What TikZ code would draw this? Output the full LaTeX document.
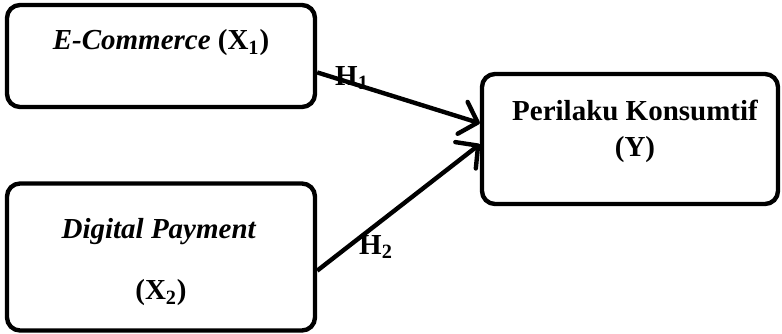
\documentclass[tikz,border=0pt]{standalone}
\usepackage{fontspec}
\setmainfont{Liberation Serif}
\usetikzlibrary{arrows.meta, positioning}

\begin{document}
\begin{tikzpicture}[
  x=0.02cm, y=-0.02cm,
  varbox/.style={draw, line width=2.5pt, rounded corners=0.26cm, inner sep=0pt},
  vartext/.style={font=\fontsize{16.5}{20}\selectfont\bfseries, align=center},
  hyp/.style={font=\fontsize{16.5}{20}\selectfont\bfseries, inner sep=1pt},
  link/.style={line width=2.5pt, -{Straight Barb[length=9pt, width=19pt, line width=2.5pt, round]}},
]
  \useasboundingbox (0,0) rectangle (782,334);

  % Boxes
  \node[varbox, minimum width=308*0.02cm, minimum height=102*0.02cm] (ecom) at (161,56) {};
  \node[varbox, minimum width=308*0.02cm, minimum height=147*0.02cm] (dpay) at (161,257) {};
  \node[varbox, minimum width=296*0.02cm, minimum height=130*0.02cm] (cons) at (630,139) {};

  % Texts
  \node[vartext] (ecomtxt) at (161,43) {\textit{E-Commerce} (X\textsubscript{1})};
  \node[vartext] (dpaytxt) at (159,232) {\textit{Digital Payment}};
  \node[vartext] (dpayvar) at (161,293) {(X\textsubscript{2})};
  \node[vartext] (constxt) at (635,110) {Perilaku Konsumtif};
  \node[vartext] (consvar) at (635,150) {(Y)};

  % Paths
  \draw[link] (ecom.-6.3) -- (cons.174.7);
  \draw[link] (dpay.-5.9) -- (cons.-178.5);

  % Hypotheses
  \node[hyp] (h1) at (352,78) {H\textsubscript{1}};
  \node[hyp] (h2) at (376,247) {H\textsubscript{2}};
\end{tikzpicture}
\end{document}
